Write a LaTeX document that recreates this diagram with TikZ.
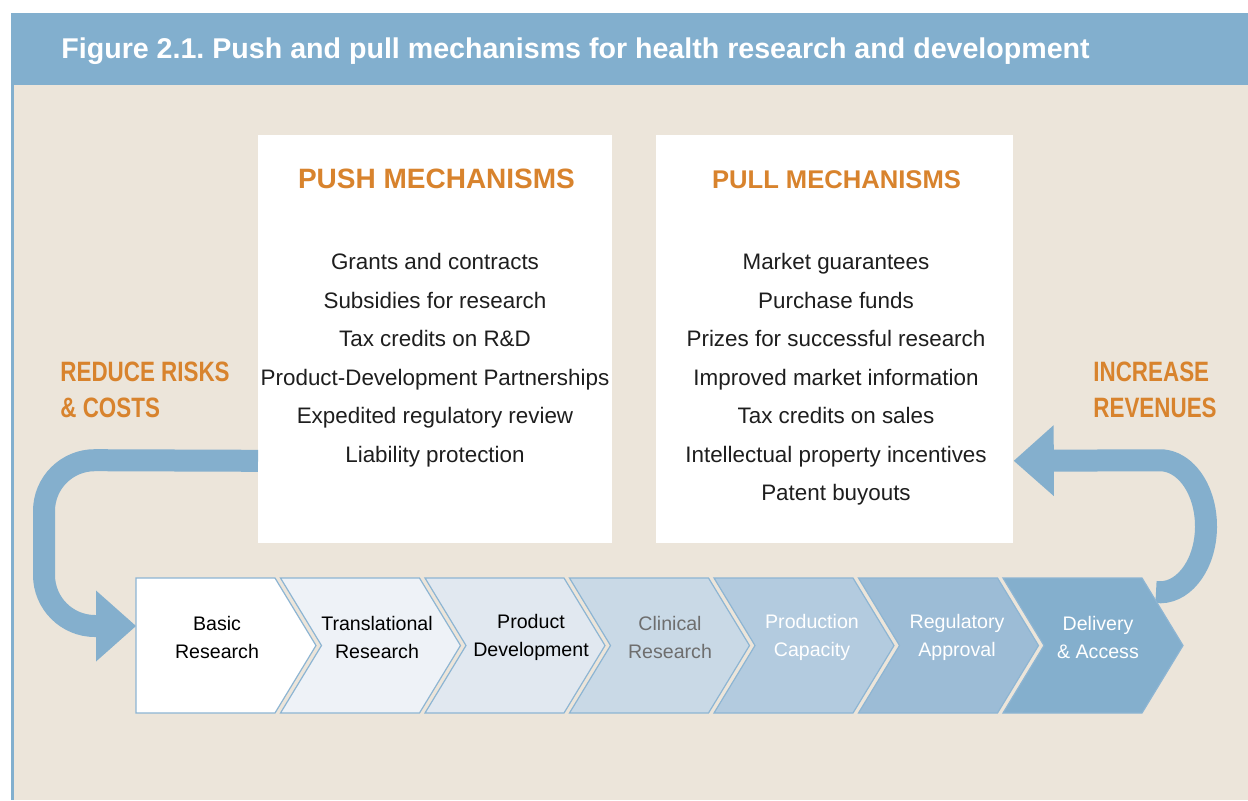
\documentclass[tikz,border=0pt]{standalone}
\usepackage{fontspec}
\setmainfont{Liberation Sans}
\newfontfamily\condfont{Liberation Sans}[FakeStretch=0.8]
\usetikzlibrary{arrows.meta}
\frenchspacing

\definecolor{headblue}{HTML}{82AFCE}
\definecolor{paper}{HTML}{ECE5DA}
\definecolor{mechorange}{HTML}{D8832D}
\definecolor{chevline}{HTML}{8DB5D3}
\definecolor{bandblue}{HTML}{84AFCD}
\definecolor{listgray}{HTML}{1E1E1E}
\definecolor{stageB}{HTML}{EEF2F7}
\definecolor{stageC}{HTML}{E1E8F0}
\definecolor{stageD}{HTML}{C9D9E6}
\definecolor{stageE}{HTML}{B3CBDF}
\definecolor{stageF}{HTML}{9CBCD6}
\definecolor{stageG}{HTML}{84AFCD}
\definecolor{clingray}{HTML}{6E6E6E}

\begin{document}
\begin{tikzpicture}[
    x = 0.5pt,
    y = -0.5pt,
    title/.style={
        anchor = base west,
        inner sep = 0pt,
        text = white,
        font = \fontsize{14.3}{16}\selectfont\bfseries
    },
    panel/.style={
        fill = white,
        inner sep = 0pt,
        anchor = north west,
        minimum height = 204pt
    },
    heading/.style={
        anchor = base,
        inner sep = 0pt,
        text = mechorange,
        font = \fontsize{14}{16}\selectfont\bfseries
    },
    entry/.style={
        anchor = base,
        inner sep = 0pt,
        text = listgray,
        font = \fontsize{11.2}{13}\selectfont
    },
    side/.style={
        anchor = west,
        inner sep = 0pt,
        align = left,
        text = mechorange,
        font = \condfont\bfseries\fontsize{14}{18}\selectfont
    },
    stagetext/.style={
        inner sep = 0pt,
        align = center,
        font = \fontsize{9.8}{14}\selectfont
    },
    chevron/.style={
        draw = chevline,
        line width = 0.6pt
    },
    band/.style={
        draw = bandblue,
        line width = 11pt,
        -{Triangle[length=20pt, width=35.5pt, line width=0pt]}
    }
]

\useasboundingbox (0,0) rectangle (1248,800);
\fill[paper] (11,85) rectangle (1248,800);
\fill[headblue] (11,13) rectangle (1248,85);
\fill[headblue] (11,85) rectangle (13.5,800);

\node[title] (title) at (61,58)
    {Figure 2.1. Push and pull mechanisms for health research and development};

% the two panels
\node[panel, minimum width = 177pt] (push) at (258,135) {};
\node[panel, minimum width = 178.5pt] (pull) at (656,135) {};

\node[heading] (pushhead) at (436.5,188) {PUSH MECHANISMS};
\node[heading, font = \fontsize{12.8}{16}\selectfont\bfseries] (pullhead) at (836.5,188)
    {PULL MECHANISMS};

\foreach \txt [count=\k from 0] in {Grants and contracts, Subsidies for research,
    Tax credits on R\&D, Product-Development Partnerships,
    Expedited regulatory review, Liability protection}
    \node[entry] (pushitem\k) at (435,{269.5+38.5*\k}) {\txt};

\foreach \txt [count=\k from 0] in {Market guarantees, Purchase funds,
    Prizes for successful research, Improved market information,
    Tax credits on sales, Intellectual property incentives, Patent buyouts}
    \node[entry] (pullitem\k) at (836,{269.5+38.5*\k}) {\txt};

\node[side] (reduce) at (60,390) {REDUCE RISKS\\\& COSTS};
\node[side] (increase) at (1093,390) {INCREASE\\REVENUES};

% feedback arrows
\path (push.south west) ++(0,-83) coordinate (pushout);
\path (pull.south east) ++(0,-83) coordinate (pullin);
\coordinate (basicin) at (136,626);
\coordinate (delivout) at (1156,592);

\draw[band, rounded corners=25.5pt] (pushout) -- (44,460) -- (44,626) -- (basicin);
\draw[band] (delivout) arc[start angle=-95, end angle=90, x radius=23pt, y radius=33pt]
    -- (pullin);

% pipeline stages
\foreach \lab/\col/\ink/\tx [count=\k from 0] in {
    {Basic\\Research}/white/black/217,
    {Translational\\Research}/stageB/black/377,
    {Product\\Development}/stageC/black/531,
    {Clinical\\Research}/stageD/clingray/670,
    {Production\\Capacity}/stageE/white/812,
    {Regulatory\\Approval}/stageF/white/957,
    {Delivery\\\& Access}/stageG/white/1098}
{
    \pgfmathsetmacro{\xl}{136+144.5*\k}
    \pgfmathsetmacro{\nd}{\k==0 ? 0 : 41}
    \filldraw[chevron, fill=\col] (\xl,578) -- ++(139,0) -- ++(41,67.5)
        -- ++(-41,67.5) -- ++(-139,0) -- ++(\nd,-67.5) -- cycle;
    \node[stagetext, text=\ink] (stage\k) at (\tx,637) {\lab};
}

\end{tikzpicture}
\end{document}
